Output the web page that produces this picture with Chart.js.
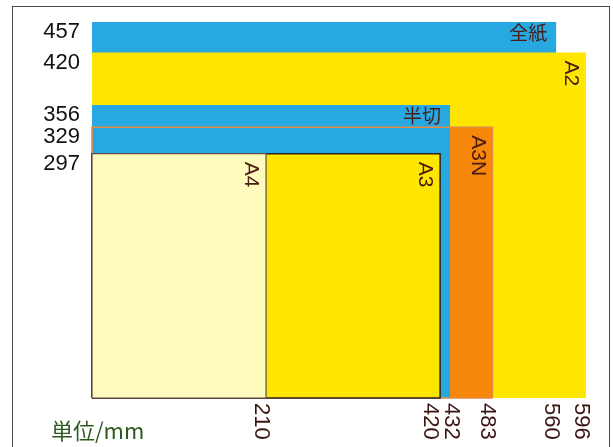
<!DOCTYPE html>
<html>
<head>
<meta charset="utf-8">
<script src="https://cdn.jsdelivr.net/npm/chart.js@4/dist/chart.umd.min.js"></script>
<style>
  html, body { margin: 0; padding: 0; background: #fff; }
  #wrap { position: relative; width: 613px; height: 447px; overflow: hidden; }
  #frame { position: absolute; left: 12px; top: 6px; width: 596px; height: 470px; border: 1.5px solid #4a4a4a; border-bottom: none; }
  #chart { position: absolute; left: 0; top: 0; }
  #unit { position: absolute; left: 51px; top: 416px; font: 22px "Noto Sans CJK JP", sans-serif; line-height: 26px; color: #2d5a20; }
</style>
</head>
<body>
<div id="wrap">
  <div id="frame"></div>
  <canvas id="chart" width="613" height="447"></canvas>
  <div id="unit">単位/mm</div>
</div>
<script>
// paper sizes in mm, listed from bottom layer to top layer
const names = ["全紙", "A2", "A3N", "半切", "A3", "A4"];
const widths = [560, 596, 483, 432, 420, 210];
const heights = [457, 420, 329, 356, 297, 297];

const yTicks = [297, 329, 356, 420, 457];
const xTicks = [210, 420, 432, 483, 560, 596];

const COLORS = {
  blue: "#28a8e0",
  yellow: "#ffe600",
  orange: "#f6870a",
  pale: "#fffbbd",
  text: "#4a1a14",
};

// fill / border per layer
const STYLES = {
  "全紙": { fill: COLORS.blue, border: COLORS.blue, width: 0 },
  "A2": { fill: COLORS.yellow, border: COLORS.yellow, width: 0 },
  "A3N": { fill: COLORS.orange, border: COLORS.orange, width: 0 },
  "半切": { fill: COLORS.blue, border: COLORS.blue, width: 0 },
  "A3": { fill: COLORS.yellow, border: "#2a2220", width: 1.5 },
  "A4": { fill: COLORS.pale, border: "#5e4c44", width: 1.2 },
};
const VERTICAL_LABELS = new Set(["A2", "A3N", "A3", "A4"]);

function rectPoints(w, h) {
  return [{ x: 0, y: 0 }, { x: 0, y: h }, { x: w, y: h }, { x: w, y: 0 }, { x: 0, y: 0 }];
}

const datasets = names.map((n, i) => ({
  label: n,
  data: rectPoints(widths[i], heights[i]),
  showLine: true,
  fill: "shape",
  backgroundColor: STYLES[n].fill,
  borderColor: STYLES[n].border,
  borderWidth: STYLES[n].width,
  pointRadius: 0,
  tension: 0,
  clip: false,
}));

// A3N outline shows over the 半切 layer
const a3n = names.indexOf("A3N");
datasets.splice(4, 0, {
  label: "A3N-outline",
  data: rectPoints(widths[a3n], heights[a3n]),
  showLine: true,
  fill: false,
  borderColor: "#e58a42",
  borderWidth: 1.6,
  pointRadius: 0,
  clip: false,
});
datasets.forEach((d, i) => { d.order = datasets.length - i; });

const sizeLabels = {
  id: "sizeLabels",
  afterDatasetsDraw(chart) {
    const { ctx, scales: { x, y } } = chart;
    ctx.save();
    ctx.fillStyle = COLORS.text;
    names.forEach((n, i) => {
      const right = x.getPixelForValue(widths[i]);
      const top = y.getPixelForValue(heights[i]);
      if (VERTICAL_LABELS.has(n)) {
        ctx.save();
        ctx.translate(right - 15, top + 8);
        ctx.rotate(Math.PI / 2);
        ctx.font = "21px 'Liberation Sans', Arial, sans-serif";
        ctx.textAlign = "left";
        ctx.textBaseline = "middle";
        ctx.fillText(n, 0, 0);
        ctx.restore();
      } else {
        ctx.font = "19px 'Noto Sans CJK JP', sans-serif";
        ctx.textAlign = "right";
        ctx.textBaseline = "middle";
        ctx.fillText(n, right - 9, top + 11);
      }
    });
    ctx.restore();
  },
  afterDraw(chart) {
    // x tick labels, rotated clockwise, pushed apart where they collide
    const { ctx, chartArea, scales: { x } } = chart;
    const pos = xTicks.map((v) => x.getPixelForValue(v) - 5);
    const gap = 21;
    for (let i = 1; i < pos.length; i++) {
      if (pos[i] - pos[i - 1] < gap) {
        const mid = (pos[i] + pos[i - 1]) / 2;
        pos[i - 1] = mid - gap / 2;
        pos[i] = mid + gap / 2;
      }
    }
    ctx.save();
    ctx.fillStyle = "#3a1512";
    ctx.font = "22px 'Liberation Sans', Arial, sans-serif";
    ctx.textAlign = "left";
    ctx.textBaseline = "middle";
    xTicks.forEach((v, i) => {
      ctx.save();
      ctx.translate(pos[i], chartArea.bottom + 5);
      ctx.rotate(Math.PI / 2);
      ctx.fillText(String(v), 0, 0);
      ctx.restore();
    });
    ctx.restore();
  },
};

new Chart(document.getElementById("chart"), {
  type: "scatter",
  data: { datasets },
  plugins: [sizeLabels],
  options: {
    responsive: false,
    animation: false,
    layout: { padding: { left: 0, top: 22, right: 27, bottom: 49 } },
    plugins: { legend: { display: false }, tooltip: { enabled: false } },
    scales: {
      x: {
        type: "linear",
        min: 0,
        max: 596,
        grid: { display: false },
        border: { display: false },
        ticks: { display: false },
        afterFit: (s) => { s.height = 0; },
      },
      y: {
        type: "linear",
        min: 0,
        max: 457,
        grid: { display: false },
        border: { display: false },
        afterBuildTicks: (s) => { s.ticks = yTicks.map((v) => ({ value: v })); },
        afterFit: (s) => { s.width = 92; },
        ticks: {
          autoSkip: false,
          padding: 4,
          labelOffset: 10,
          color: "#111",
          font: { family: "'Liberation Sans', Arial, sans-serif", size: 22 },
        },
      },
    },
  },
});
</script>
</body>
</html>
